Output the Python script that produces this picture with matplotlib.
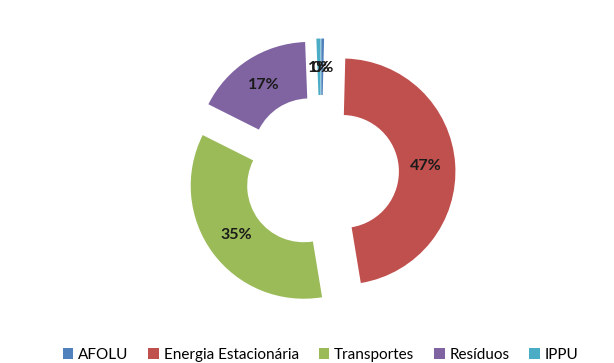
import matplotlib.pyplot as plt
from matplotlib.patches import Patch

# share of emissions per sector
sectors = ['AFOLU', 'Energia Estacionária', 'Transportes', 'Resíduos', 'IPPU']
shares = [0.4, 47.0, 35.0, 17.0, 0.6]
colors = ['#4F81BD', '#C0504D', '#9BBB59', '#8064A2', '#4BACC6']

plt.rcParams['font.family'] = ['Lato', 'DejaVu Sans']

fig = plt.figure(figsize=(6.14, 3.63), dpi=100)
ax = fig.add_axes([0, 0, 1, 1])

wedges, texts, autotexts = ax.pie(
    shares, colors=colors, startangle=90, counterclock=False,
    explode=[0.19] * len(shares), autopct='%.0f%%', pctdistance=0.74,
    wedgeprops=dict(width=0.5, linewidth=0),
    textprops=dict(fontsize=11.5, fontweight='bold', color='#1a1a1a'))

# pixel scale: radius 1 ~ 113 px, centre at (321, 173) from top-left
ax.set_xlim(-321 / 113, (614 - 321) / 113)
ax.set_ylim(-(363 - 173) / 113, 173 / 113)
ax.set_aspect('auto')
ax.axis('off')

handles = [Patch(facecolor=c, edgecolor='none') for c in colors]
fig.legend(handles, sectors, loc='lower center', bbox_to_anchor=(0.522, -0.035),
           ncol=5, frameon=False, fontsize=11, handlelength=0.7,
           handleheight=0.7, handletextpad=0.3, columnspacing=1.3)

fig.savefig('out.png', dpi=100, facecolor='white')
